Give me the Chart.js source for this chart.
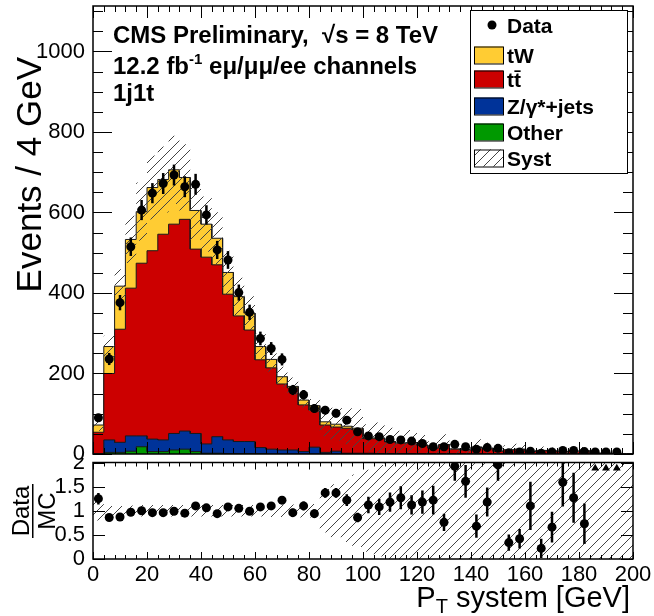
<!DOCTYPE html>
<html>
<head>
<meta charset="utf-8">
<title>PT system 1j1t</title>
<script src="https://cdn.jsdelivr.net/npm/chart.js@4.4.1/dist/chart.umd.min.js"></script>
<style>
  body { margin: 0; background: #fff; }
  #wrap { position: relative; width: 654px; height: 616px; overflow: hidden; }
  #cMain { position: absolute; left: 0; top: 0; z-index: 2; }
  #cRatio { position: absolute; left: 0; top: 458px; z-index: 1; }
</style>
</head>
<body>
<div id="wrap">
  <canvas id="cMain" width="654" height="462"></canvas>
  <canvas id="cRatio" width="654" height="158"></canvas>
</div>
<script>
var FONT = '"Liberation Sans", Arial, Helvetica, sans-serif';

// 50 bins of 4 GeV
var binWidth = 4;
var binLow = Array.from({length: 50}, function (v, i) { return i * binWidth; });

var dataCounts = [90, 236, 376, 515, 606, 648, 672, 693, 664, 670,
  594, 507, 482, 401, 352, 287, 262, 235, 159, 147,
  113, 109, 101, 84, 55, 45, 43, 36, 35, 32,
  26, 18, 18, 24, 18, 12, 16, 14, 3, 5,
  7, 2, 5, 9, 9, 6, 5, 5, 5, 0];
var dataErr = [9.5, 15, 19, 23, 25, 25, 26, 26, 26, 26,
  24, 22.5, 22, 20, 19, 17, 16, 15, 12.6, 12,
  10.6, 10.4, 10, 9.2, 7.4, 6.7, 6.6, 6, 5.9, 5.7,
  5.1, 4.2, 4.2, 4.9, 4.2, 3.5, 4, 3.7, 1.7, 2.2,
  2.6, 1.4, 2.2, 3, 3, 2.4, 2.2, 2.2, 2.2, 0];

var other = [0, 4, 4, 7, 18, 6, 6, 10, 12, 6,
  2, 2, 1, 1, 1, 1, 0, 0, 0, 0,
  0, 0, 0, 0, 0, 0, 0, 0, 0, 0,
  0, 0, 0, 0, 0, 0, 0, 0, 0, 0,
  0, 0, 0, 0, 0, 0, 0, 0, 0, 0];
var zjets = [0, 31, 25, 38, 27, 31, 29, 41, 45, 45,
  23, 41, 34, 30, 30, 15, 12, 10, 10, 6,
  17, 4, 7, 2, 2, 2, 1, 1, 1, 0.5,
  0.5, 0.5, 0.5, 0, 0, 0.5, 0, 0, 0, 0,
  0, 0, 0, 0, 0, 0, 0, 0, 0, 0];
var ttbar = [54, 165, 281, 367, 429, 468, 511, 520, 526, 458,
  464, 427, 362, 312, 277, 218, 202, 164, 154, 116,
  92, 68, 60, 62, 58, 36, 37, 29, 26, 27,
  21, 14, 22, 12, 10, 16, 13, 7, 10, 11.5,
  6, 8.5, 7, 5.5, 6.5, 8, 2, 2, 1.5, 1];
var tW = [18, 67, 107, 121, 128, 157, 136, 135, 104, 96,
  82, 66, 54, 48, 42, 33, 21, 18, 4, 12,
  11, 8, 7, 5, 4, 2, 2, 1, 0.5, 1,
  1, 0.5, 1, 0.5, 1, 1, 0.5, 0.2, 0.3, 0.5,
  0.4, 0.5, 0.6, 0.2, 0.5, 0.2, 0.2, 0.1, 0.2, 0.1];

// relative systematic uncertainty on the total MC
var systRel = [0.2, 0.1, 0.1, 0.11, 0.12, 0.12, 0.12, 0.12, 0.12, 0.12,
  0.12, 0.12, 0.12, 0.12, 0.12, 0.12, 0.13, 0.13, 0.13, 0.14,
  0.14, 0.45, 0.55, 0.65, 0.75, 0.85, 0.95, 1.1, 1.1, 1.1,
  1.1, 1.1, 1.1, 1.1, 1.1, 1.1, 1.1, 1.1, 1.1, 1.1,
  1.1, 1.1, 1.1, 1.1, 1.1, 1.1, 1.1, 1.1, 1.1, 1.1];

var ratio = [1.25, 0.86, 0.87, 0.97, 1.0, 0.96, 0.96, 0.99, 0.95, 1.1,
  1.06, 0.94, 1.08, 1.05, 0.99, 1.08, 1.1, 1.22, 0.96, 1.1,
  0.94, 1.37, 1.37, 1.22, 0.86, 1.12, 1.08, 1.18, 1.27, 1.12,
  1.18, 1.22, 0.76, 1.92, 1.61, 0.68, 1.18, 1.95, 0.34, 0.42,
  1.1, 0.22, 0.66, 1.59, 1.27, 0.73, 2.5, 2.5, 2.5, null];
var ratioErr = [0.12, 0.07, 0.05, 0.05, 0.04, 0.04, 0.04, 0.04, 0.04, 0.04,
  0.05, 0.05, 0.05, 0.05, 0.06, 0.07, 0.07, 0.08, 0.08, 0.09,
  0.09, 0.1, 0.1, 0.12, 0.1, 0.17, 0.17, 0.2, 0.24, 0.2,
  0.24, 0.3, 0.18, 0.3, 0.34, 0.24, 0.3, 0.33, 0.17, 0.2,
  0.5, 0.2, 0.32, 0.5, 0.52, 0.42, 0, 0, 0, 0];

var xTicks = [0, 20, 40, 60, 80, 100, 120, 140, 160, 180, 200];
var yTicksMain = [0, 200, 400, 600, 800, 1000];
var yTicksRatio = [0, 0.5, 1, 1.5, 2];
var yMaxMain = 1113;
var ratioMax = 2;

var colors = {tW: '#ffcc33', tt: '#cc0000', z: '#003399', other: '#009900'};
var legendRows = [
  {name: 'Data', kind: 'dot', y: 25},
  {name: 'tW', color: colors.tW, y: 55},
  {name: 'tt\u0304', color: colors.tt, y: 79},
  {name: 'Z/\u03b3*+jets', color: colors.z, y: 106},
  {name: 'Other', color: colors.other, y: 132},
  {name: 'Syst', kind: 'hatch', y: 158}
];

function makeHatch(ctx) {
  var c = document.createElement('canvas');
  c.width = 10; c.height = 10;
  var g = c.getContext('2d');
  g.strokeStyle = '#444';
  g.lineWidth = 1;
  g.beginPath();
  g.moveTo(-1, 11); g.lineTo(11, -1);
  g.moveTo(-1, 1); g.lineTo(1, -1);
  g.moveTo(9, 11); g.lineTo(11, 9);
  g.stroke();
  return ctx.createPattern(c, 'repeat');
}

function steps(vals) {
  var pts = [];
  vals.forEach(function (v, i) {
    pts.push({x: binLow[i], y: v});
    pts.push({x: binLow[i] + binWidth, y: v});
  });
  return pts;
}

function addUp() {
  var arrs = arguments;
  return binLow.map(function (b, i) {
    var s = 0;
    for (var k = 0; k < arrs.length; k++) s += arrs[k][i];
    return s;
  });
}

var cumZ = addUp(other, zjets);
var cumTT = addUp(other, zjets, ttbar);
var cumTW = addUp(other, zjets, ttbar, tW);
var bandHi = cumTW.map(function (v, i) { return v * (1 + systRel[i]); });
var bandLo = cumTW.map(function (v, i) { return Math.max(0, v * (1 - systRel[i])); });
var ratioHi = systRel.map(function (s) { return 1 + s; });
var ratioLo = systRel.map(function (s) { return Math.max(0, 1 - s); });

var dataPts = [];
dataCounts.forEach(function (n, i) {
  if (n > 0) dataPts.push({x: binLow[i] + binWidth / 2, y: n, err: dataErr[i]});
});
var ratioPts = [], overPts = [];
ratio.forEach(function (r, i) {
  if (r === null) return;
  if (r > ratioMax) overPts.push({x: binLow[i] + binWidth / 2, y: ratioMax * 0.94});
  else ratioPts.push({x: binLow[i] + binWidth / 2, y: r, err: ratioErr[i]});
});

function stackSet(label, vals, color) {
  return {label: label, data: steps(vals), fill: 'origin', backgroundColor: color,
    borderColor: '#1a1a1a', borderWidth: 1, pointRadius: 0, tension: 0};
}
function bandSets(hi, lo, pattern) {
  return [
    {label: 'Syst', data: steps(hi), fill: '+1', backgroundColor: pattern,
      borderColor: 'rgba(0,0,0,0)', borderWidth: 1, pointRadius: 0},
    {label: 'syst-lo', data: steps(lo), fill: false,
      borderColor: 'rgba(0,0,0,0)', borderWidth: 1, pointRadius: 0}
  ];
}
function pointSet(label, pts, style) {
  return {label: label, data: pts, showLine: false, pointStyle: style || 'circle',
    pointRadius: 4.5, pointBackgroundColor: '#000', pointBorderColor: '#000', pointBorderWidth: 0};
}

// no label overhang padding, so the plot frame sits where the layout says
function noPad(s) {
  s.paddingTop = 0; s.paddingBottom = 0; s.paddingLeft = 0; s.paddingRight = 0;
}

// white page, error bars, frame with inner ticks (ROOT look)
var rootFrame = {
  id: 'rootFrame',
  beforeDraw: function (chart, args, o) {
    var c = chart.ctx;
    c.save();
    c.fillStyle = '#fff';
    c.fillRect(0, 0, chart.width, o.bgHeight || chart.height);
    c.restore();
  },
  afterDatasetsDraw: function (chart) {
    var c = chart.ctx, a = chart.chartArea, ys = chart.scales.y;
    c.save();
    c.beginPath(); c.rect(a.left, a.top, a.right - a.left, a.bottom - a.top); c.clip();
    c.strokeStyle = '#000'; c.lineWidth = 2.5;
    chart.data.datasets.forEach(function (ds, k) {
      var meta = chart.getDatasetMeta(k);
      ds.data.forEach(function (p, j) {
        if (!p.err) return;
        var el = meta.data[j];
        c.beginPath();
        c.moveTo(el.x, ys.getPixelForValue(p.y - p.err));
        c.lineTo(el.x, ys.getPixelForValue(p.y + p.err));
        c.stroke();
      });
    });
    c.restore();
  },
  afterDraw: function (chart, args, o) {
    var c = chart.ctx, a = chart.chartArea, xs = chart.scales.x, ys = chart.scales.y, v, px, L;
    c.save();
    c.strokeStyle = '#000'; c.lineWidth = 1;
    c.beginPath();
    for (v = xs.min; v <= xs.max + 1e-9; v += o.xMinor) {
      px = Math.round(xs.getPixelForValue(v)) + 0.5;
      L = Math.abs(v / o.xMajor - Math.round(v / o.xMajor)) < 1e-6 ? o.xMajLen : o.xMinLen;
      c.moveTo(px, a.bottom); c.lineTo(px, a.bottom - L);
      c.moveTo(px, a.top); c.lineTo(px, a.top + L);
    }
    for (v = ys.min; v <= ys.max + 1e-9; v += o.yMinor) {
      px = Math.round(ys.getPixelForValue(v)) + 0.5;
      L = Math.abs(v / o.yMajor - Math.round(v / o.yMajor)) < 1e-6 ? o.yMajLen : o.yMinLen;
      c.moveTo(a.left, px); c.lineTo(a.left + L, px);
      c.moveTo(a.right, px); c.lineTo(a.right - L, px);
    }
    c.stroke();
    c.lineWidth = 1.5;
    c.strokeRect(a.left, a.top, a.right - a.left, a.bottom - a.top);
    c.restore();
    if (o.extra) o.extra(chart);
  }
};

function runs(c, x, y, parts) {
  parts.forEach(function (p) {
    c.font = p.font;
    c.fillText(p.t, x, y + (p.dy || 0));
    x += c.measureText(p.t).width;
  });
}

function drawMainText(chart) {
  var c = chart.ctx;
  c.save();
  c.fillStyle = '#000';
  c.textAlign = 'left';
  c.textBaseline = 'alphabetic';
  var B = 'bold 24px ' + FONT;
  runs(c, 113, 43, [{t: 'CMS Preliminary,  \u221as = 8 TeV', font: B}]);
  runs(c, 113, 74, [{t: '12.2 fb', font: B}, {t: '-1', font: 'bold 15px ' + FONT, dy: -10},
    {t: ' e\u03bc/\u03bc\u03bc/ee channels', font: B}]);
  runs(c, 113, 101, [{t: '1j1t', font: B}]);

  // y title
  c.save();
  c.translate(31, 57);
  c.rotate(-Math.PI / 2);
  c.textAlign = 'right';
  c.textBaseline = 'middle';
  c.font = '35px ' + FONT;
  c.fillText('Events / 4 GeV', 0, 0);
  c.restore();

  // legend
  c.fillStyle = '#fff';
  c.fillRect(470, 10, 157, 163);
  c.strokeStyle = '#000'; c.lineWidth = 1;
  c.strokeRect(470.5, 10.5, 157, 163);
  c.font = 'bold 21px ' + FONT;
  legendRows.forEach(function (r) {
    if (r.kind === 'dot') {
      c.fillStyle = '#000';
      c.beginPath(); c.arc(492, r.y, 4.5, 0, 2 * Math.PI); c.fill();
    } else {
      c.fillStyle = r.kind === 'hatch' ? chart.$hatch : r.color;
      c.fillRect(474, r.y - 8.5, 29, 17);
      c.strokeStyle = '#000';
      c.strokeRect(474.5, r.y - 8, 29, 17);
    }
    c.fillStyle = '#000';
    c.fillText(r.name, 507, r.y + 8);
  });
  c.restore();
}

function drawRatioText(chart) {
  var c = chart.ctx;
  c.save();
  c.fillStyle = '#000';
  // Data / MC fraction, rotated
  c.save();
  c.translate(33, 53);
  c.rotate(-Math.PI / 2);
  c.font = '24px ' + FONT;
  c.textAlign = 'center';
  c.textBaseline = 'alphabetic';
  c.fillText('Data', 0, -4);
  c.textBaseline = 'top';
  c.fillText('MC', 0, 3);
  c.fillRect(-27, -1, 54, 1.5);
  c.restore();
  // x title with subscript
  c.textAlign = 'left';
  c.textBaseline = 'alphabetic';
  var F = '29px ' + FONT;
  c.font = F;
  var w = c.measureText('P').width + c.measureText(' system [GeV]').width;
  c.font = '20px ' + FONT;
  w += c.measureText('T').width;
  runs(c, 630 - w, 149, [{t: 'P', font: F}, {t: 'T', font: '20px ' + FONT, dy: 6}, {t: ' system [GeV]', font: F}]);
  c.restore();
}

var tickFont = {family: FONT, size: 22};

var ctxMain = document.getElementById('cMain').getContext('2d');
var hatchMain = makeHatch(ctxMain);
var mainChart = new Chart(ctxMain, {
  type: 'line',
  data: {
    datasets: [pointSet('Data', dataPts)]
      .concat(bandSets(bandHi, bandLo, hatchMain))
      .concat([
        stackSet('Other', other, colors.other),
        stackSet('Z/gamma*+jets', cumZ, colors.z),
        stackSet('ttbar', cumTT, colors.tt),
        stackSet('tW', cumTW, colors.tW)
      ])
  },
  options: {
    responsive: false,
    animation: false,
    events: [],
    layout: {padding: {left: 0, right: 21, top: 6, bottom: 8}},
    plugins: {
      legend: {display: false},
      tooltip: {enabled: false},
      rootFrame: {bgHeight: 458, xMajor: 20, xMinor: 4, xMajLen: 12, xMinLen: 6,
        yMajor: 200, yMinor: 50, yMajLen: 19, yMinLen: 10, extra: drawMainText}
    },
    scales: {
      x: {type: 'linear', min: 0, max: 200, display: false},
      y: {
        min: 0, max: yMaxMain,
        afterFit: function (s) { s.width = 93; noPad(s); },
        afterBuildTicks: function (s) { s.ticks = yTicksMain.map(function (v) { return {value: v}; }); },
        grid: {display: false, drawTicks: false},
        border: {display: false},
        ticks: {padding: 8, color: '#000', font: tickFont, autoSkip: false,
          callback: function (v) { return String(v); }}
      }
    }
  },
  plugins: [rootFrame]
});
mainChart.$hatch = hatchMain;
mainChart.draw();

var ctxRatio = document.getElementById('cRatio').getContext('2d');
var hatchRatio = makeHatch(ctxRatio);
var ratioChart = new Chart(ctxRatio, {
  type: 'line',
  data: {
    datasets: [pointSet('ratio', ratioPts), pointSet('overflow', overPts, 'triangle')]
      .concat(bandSets(ratioHi, ratioLo, hatchRatio))
  },
  options: {
    responsive: false,
    animation: false,
    events: [],
    layout: {padding: {left: 0, right: 21, top: 3, bottom: 0}},
    plugins: {
      legend: {display: false},
      tooltip: {enabled: false},
      rootFrame: {xMajor: 20, xMinor: 4, xMajLen: 7, xMinLen: 4,
        yMajor: 0.5, yMinor: 0.5, yMajLen: 12, yMinLen: 12, extra: drawRatioText}
    },
    scales: {
      x: {
        type: 'linear', min: 0, max: 200,
        afterFit: function (s) { s.height = 57; noPad(s); },
        afterBuildTicks: function (s) { s.ticks = xTicks.map(function (v) { return {value: v}; }); },
        grid: {display: false, drawTicks: false},
        border: {display: false},
        ticks: {padding: 3, color: '#000', font: tickFont, autoSkip: false, maxRotation: 0,
          callback: function (v) { return String(v); }}
      },
      y: {
        min: 0, max: ratioMax,
        afterFit: function (s) { s.width = 93; noPad(s); },
        afterBuildTicks: function (s) { s.ticks = yTicksRatio.map(function (v) { return {value: v}; }); },
        grid: {display: false, drawTicks: false},
        border: {display: false},
        ticks: {padding: 8, color: '#000', font: tickFont, autoSkip: false,
          callback: function (v) { return String(v); }}
      }
    }
  },
  plugins: [rootFrame]
});
</script>
</body>
</html>
